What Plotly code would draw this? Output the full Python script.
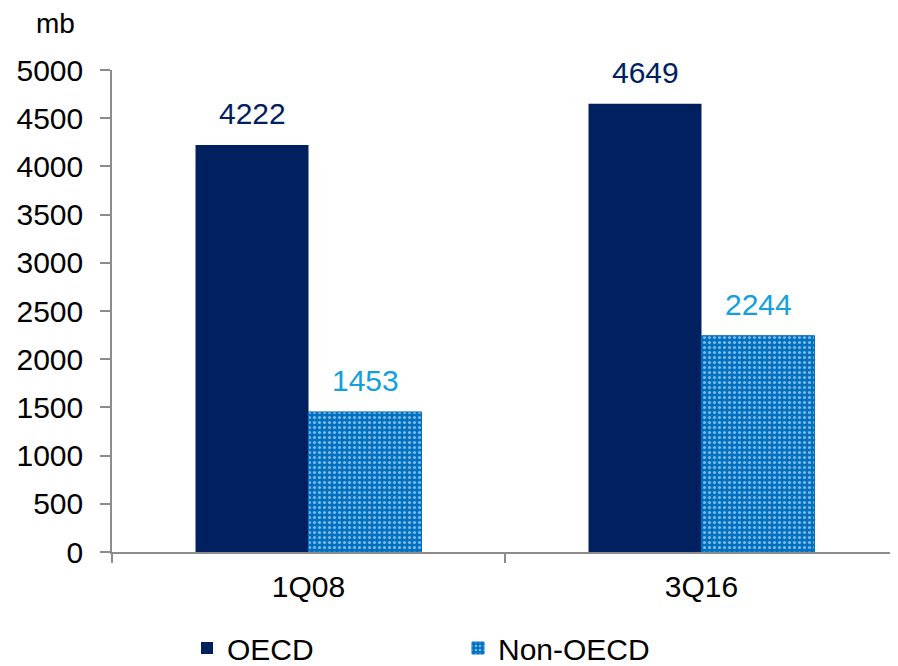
import plotly.graph_objects as go

categories = ["1Q08", "3Q16"]
oecd = [4222, 4649]
non_oecd = [1453, 2244]
y_ticks = list(range(0, 5001, 500))

FONT = "Arial, Liberation Sans, sans-serif"
NAVY = "#002060"
BLUE = "#0070C0"
LABEL_BLUE = "#14A0DC"
AXIS = "#8C8C8C"
FS = 30

# page body has an 8px margin, so the figure is sized to fit the window
W, H = 890, 658
L, R, T, B = 104, 0, 62, 114
PW, PH = W - L - R, H - T - B

fig = go.Figure()
fig.add_trace(go.Bar(
    name="OECD", x=categories, y=oecd,
    marker=dict(color=NAVY, line=dict(width=0)),
))
fig.add_trace(go.Bar(
    name="Non-OECD", x=categories, y=non_oecd,
    marker=dict(color=BLUE, line=dict(color=BLUE, width=1),
                pattern=dict(shape=".", bgcolor=BLUE, fgcolor="white",
                             size=5, solidity=0.3, fillmode="overlay")),
))

# value labels
for i, c in enumerate(categories):
    fig.add_annotation(x=c, y=oecd[i], xref="x", yref="y", text=str(oecd[i]),
                       showarrow=False, yanchor="bottom", xshift=-56.5, yshift=13,
                       font=dict(family=FONT, size=FS, color=NAVY))
    fig.add_annotation(x=c, y=non_oecd[i], xref="x", yref="y", text=str(non_oecd[i]),
                       showarrow=False, yanchor="bottom", xshift=56.5, yshift=13,
                       font=dict(family=FONT, size=FS, color=LABEL_BLUE))

# "mb" unit label
fig.add_annotation(x=(47 - L) / PW, y=(H - 16 - B) / PH,
                   xref="paper", yref="paper", text="mb", showarrow=False,
                   xanchor="center", yanchor="middle",
                   font=dict(family=FONT, size=28, color="black"))

fig.update_layout(
    width=W, height=H,
    margin=dict(l=L, r=R, t=T, b=B, pad=0, autoexpand=False),
    paper_bgcolor="white", plot_bgcolor="white",
    font=dict(family=FONT, size=FS, color="black"),
    barmode="group", bargap=0.425, bargroupgap=0,
    showlegend=True,
    legend=dict(orientation="h", x=(179 - L) / PW, y=-(640 - (T + PH)) / PH,
                xanchor="left", yanchor="middle",
                entrywidth=226, entrywidthmode="pixels",
                font=dict(family=FONT, size=FS, color="black"),
                itemwidth=30, traceorder="normal"),
    xaxis=dict(showgrid=False, showline=True, linecolor=AXIS, linewidth=1.5,
               ticks="outside", ticklen=9, tickcolor=AXIS, tickwidth=1.5,
               tickson="boundaries", ticklabelstandoff=7,
               tickfont=dict(family=FONT, size=FS)),
    yaxis=dict(range=[0, 5000], tickvals=y_ticks, showgrid=False, showline=True,
               linecolor=AXIS, linewidth=1.5, ticks="outside", ticklen=10,
               tickcolor=AXIS, tickwidth=1.5, zeroline=False,
               ticklabelstandoff=11,
               tickfont=dict(family=FONT, size=FS)),
)

fig.write_html("out.html")
